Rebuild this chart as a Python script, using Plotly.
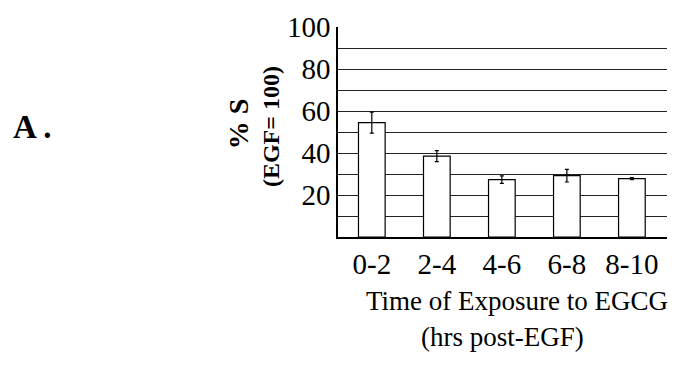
import plotly.graph_objects as go

categories = ["0-2", "2-4", "4-6", "6-8", "8-10"]
values = [54.5, 38.5, 27.3, 29.2, 27.8]
errors = [5.0, 2.6, 1.8, 3.0, 0.5]
ytick_vals = [10, 20, 30, 40, 50, 60, 70, 80, 90, 100]
ytick_text = ["", "20", "", "40", "", "60", "", "80", "", "100"]

W, H = 678, 372
L, R, T, B = 338, 667, 23, 237

def px(x):
    return (x - L) / (R - L)

def py(y):
    return (B - y) / (B - T)

FONT = "Liberation Serif, Times New Roman, serif"

fig = go.Figure()
fig.add_trace(go.Bar(
    x=list(range(len(categories))), y=values,
    width=0.41,
    marker=dict(color="white", line=dict(color="black", width=1.2)),
    error_y=dict(type="data", array=errors, color="black", thickness=1.2, width=2),
))

fig.update_layout(
    width=W, height=H,
    margin=dict(l=L, r=W - R, t=T, b=H - B),
    paper_bgcolor="white", plot_bgcolor="white",
    showlegend=False,
    font=dict(family=FONT, color="black"),
    xaxis=dict(
        range=[-0.52, 4.54],
        tickvals=list(range(len(categories))), ticktext=categories,
        showgrid=False, showline=True, linecolor="black", linewidth=1.5,
        ticks="", tickfont=dict(size=29, family=FONT, color="black"),
        zeroline=False,
    ),
    yaxis=dict(
        range=[0, 100],
        tickvals=ytick_vals, ticktext=ytick_text,
        showgrid=True, gridcolor="#222", gridwidth=1,
        showline=True, linecolor="black", linewidth=1.5,
        ticks="", ticklen=0, tickfont=dict(size=29, family=FONT, color="black"),
        zeroline=False,
    ),
)

ann = [
    dict(text="<b>A .</b>", x=px(32), y=py(125), size=33, angle=0),
    dict(text="<b>% S</b>", x=px(238), y=py(122), size=28, angle=-90),
    dict(text="<b>(EGF= 100)</b>", x=px(271), y=py(125), size=24, angle=-90),
    dict(text="Time of Exposure to EGCG", x=px(517), y=py(302), size=27, angle=0),
    dict(text="(hrs post-EGF)", x=px(502), y=py(339), size=27, angle=0),
]
for a in ann:
    fig.add_annotation(
        text=a["text"], x=a["x"], y=a["y"], xref="paper", yref="paper",
        xanchor="center", yanchor="middle", showarrow=False, textangle=a["angle"],
        font=dict(size=a["size"], family=FONT, color="black"),
    )

fig.write_html("out.html")
